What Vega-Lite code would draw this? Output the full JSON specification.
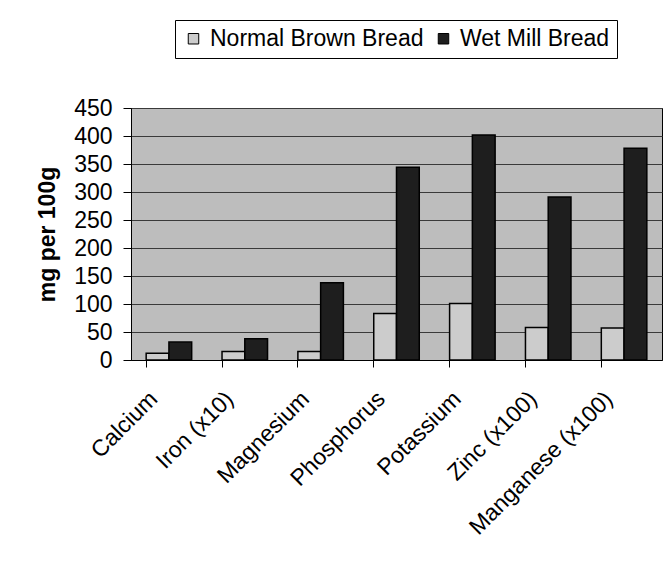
{
  "$schema": "https://vega.github.io/schema/vega-lite/v6.json",
  "width": 531,
  "height": 252,
  "autosize": "none",
  "padding": {"left": 131, "top": 108, "right": 7, "bottom": 201},
  "background": "white",
  "config": {
    "font": "Liberation Sans",
    "view": {"stroke": "#000", "strokeWidth": 1, "fill": "#bdbdbd"}
  },
  "data": {
    "values": [
      {"nutrient": "Calcium", "bread": "Normal Brown Bread", "value": 12},
      {"nutrient": "Calcium", "bread": "Wet Mill Bread", "value": 32},
      {"nutrient": "Iron (x10)", "bread": "Normal Brown Bread", "value": 15},
      {"nutrient": "Iron (x10)", "bread": "Wet Mill Bread", "value": 38},
      {"nutrient": "Magnesium", "bread": "Normal Brown Bread", "value": 15},
      {"nutrient": "Magnesium", "bread": "Wet Mill Bread", "value": 138},
      {"nutrient": "Phosphorus", "bread": "Normal Brown Bread", "value": 83},
      {"nutrient": "Phosphorus", "bread": "Wet Mill Bread", "value": 344},
      {"nutrient": "Potassium", "bread": "Normal Brown Bread", "value": 101},
      {"nutrient": "Potassium", "bread": "Wet Mill Bread", "value": 402},
      {"nutrient": "Zinc (x100)", "bread": "Normal Brown Bread", "value": 58},
      {"nutrient": "Zinc (x100)", "bread": "Wet Mill Bread", "value": 291},
      {"nutrient": "Manganese (x100)", "bread": "Normal Brown Bread", "value": 57},
      {"nutrient": "Manganese (x100)", "bread": "Wet Mill Bread", "value": 378}
    ]
  },
  "mark": {"type": "bar", "stroke": "#000", "strokeWidth": 1.5},
  "encoding": {
    "x": {
      "field": "nutrient",
      "type": "nominal",
      "sort": null,
      "scale": {"paddingInner": 0.4, "paddingOuter": 0.2},
      "axis": {
        "title": null,
        "bandPosition": 0,
        "labelAngle": -45,
        "labelAlign": "right",
        "labelBaseline": "middle",
        "labelFontSize": 23,
        "labelColor": "#000",
        "labelLimit": 300,
        "labelOffset": -15,
        "labelPadding": 28,
        "tickSize": 7,
        "tickColor": "#000",
        "domainColor": "#000"
      }
    },
    "xOffset": {"field": "bread", "type": "nominal"},
    "y": {
      "field": "value",
      "type": "quantitative",
      "scale": {"domain": [0, 450], "nice": false},
      "axis": {
        "title": "mg per 100g",
        "titleFontSize": 23,
        "titleFontWeight": "bold",
        "titleColor": "#000",
        "titlePadding": 14,
        "values": [0, 50, 100, 150, 200, 250, 300, 350, 400, 450],
        "labelFontSize": 23,
        "labelColor": "#000",
        "tickSize": 8,
        "tickColor": "#000",
        "labelPadding": 11,
        "domainColor": "#000",
        "gridColor": "#3a3a3a",
        "gridWidth": 1
      }
    },
    "color": {
      "field": "bread",
      "type": "nominal",
      "scale": {"domain": ["Normal Brown Bread", "Wet Mill Bread"], "range": ["#cccccc", "#1e1e1e"]},
      "legend": {
        "title": null,
        "orient": "none",
        "direction": "horizontal",
        "legendX": 44,
        "legendY": -88,
        "labelFontSize": 23,
        "labelColor": "#000",
        "labelLimit": 300,
        "symbolType": "square",
        "symbolSize": 110,
        "symbolStrokeColor": "#000",
        "symbolStrokeWidth": 1,
        "columnPadding": 8,
        "labelOffset": 5,
        "strokeColor": "#000",
        "fillColor": "white",
        "padding": 7
      }
    }
  }
}
